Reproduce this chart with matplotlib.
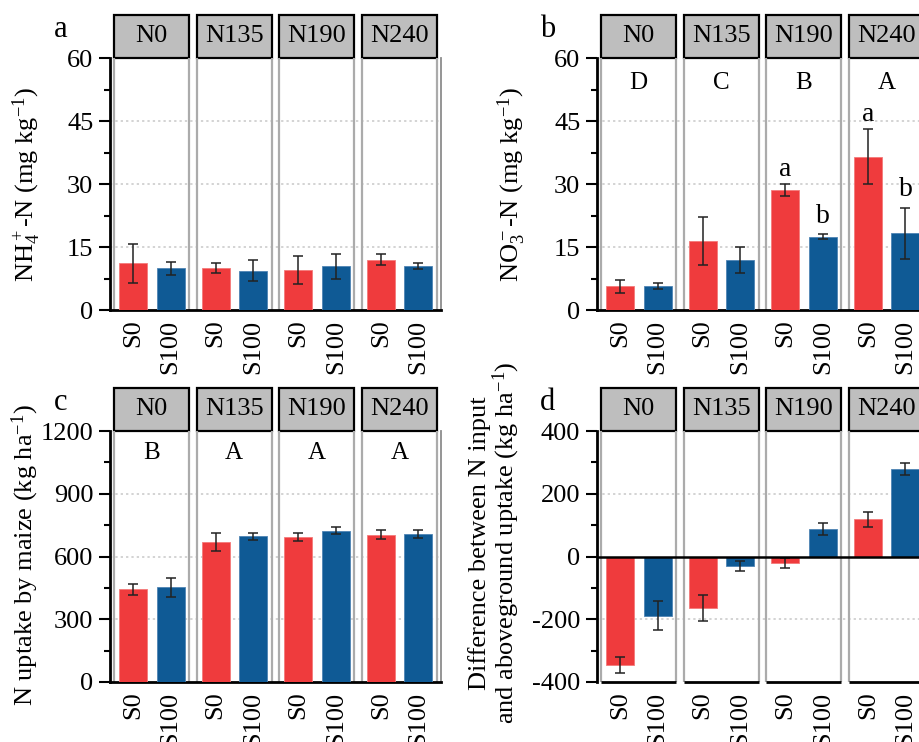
import numpy as np
import matplotlib
matplotlib.use("Agg")
import matplotlib.pyplot as plt
from matplotlib.patches import Rectangle
import matplotlib.transforms as mtransforms

plt.rcParams['font.family'] = ['Liberation Serif', 'DejaVu Serif']
plt.rcParams['mathtext.fontset'] = 'custom'
plt.rcParams['mathtext.rm'] = 'Liberation Serif'
plt.rcParams['mathtext.it'] = 'Liberation Serif'
plt.rcParams['mathtext.default'] = 'regular'
plt.rcParams['axes.unicode_minus'] = False
plt.rcParams['font.size'] = 19

# data
n_levels = ['N0', 'N135', 'N190', 'N240']
s_levels = ['S0', 'S100']

nh4_s0 = [11.1, 9.9, 9.5, 12.0]
nh4_s100 = [9.9, 9.4, 10.4, 10.5]
nh4_s0_err = [4.7, 1.2, 3.3, 1.4]
nh4_s100_err = [1.5, 2.5, 3.0, 0.7]

no3_s0 = [5.6, 16.4, 28.5, 36.5]
no3_s100 = [5.7, 11.9, 17.4, 18.3]
no3_s0_err = [1.5, 5.8, 1.4, 6.6]
no3_s100_err = [0.75, 3.1, 0.6, 6.1]
no3_group = ['D', 'C', 'B', 'A']
no3_s0_sig = ['', '', 'a', 'a']
no3_s100_sig = ['', '', 'b', 'b']

upt_s0 = [444, 668, 691, 705]
upt_s100 = [452, 697, 724, 708]
upt_s0_err = [26, 42, 19, 22]
upt_s100_err = [45, 17, 17, 20]
upt_group = ['B', 'A', 'A', 'A']

diff_s0 = [-345, -164, -21, 118]
diff_s100 = [-189, -30, 87, 279]
diff_s0_err = [25, 40, 16, 23]
diff_s100_err = [46, 16, 19, 20]

red = '#EF3B3D'
blue = '#0F5A95'

W, H = 920, 742
fig = plt.figure(figsize=(W / 100, H / 100), dpi=100)


def px_axes(left, top, bottom, width=331):
    return fig.add_axes([left / W, 1 - bottom / H, width / W, (bottom - top) / H])


pitch = 1.1
bw = 0.373
offs = [0.253, 0.753]


def facet_panel(ax, s0, s1, e0, e1, ylim, yticks, letter, neg=False):
    k = np.arange(len(n_levels))
    x0 = k * pitch + offs[0]
    x1 = k * pitch + offs[1]
    ax.bar(x0, s0, bw, color=red, edgecolor='#F47A7A', linewidth=0.6, zorder=3)
    ax.bar(x1, s1, bw, color=blue, edgecolor='#4F84B4', linewidth=0.6, zorder=3)
    eb = dict(fmt='none', ecolor='#222222', elinewidth=1.1, capsize=3.5, capthick=1.1, zorder=4)
    ax.errorbar(x0, s0, yerr=e0, **eb)
    ax.errorbar(x1, s1, yerr=e1, **eb)

    ax.set_xlim(-0.053, (len(n_levels) - 1) * pitch + 1 + 0.053)
    ax.set_ylim(*ylim)
    ax.set_yticks(yticks)
    step = yticks[1] - yticks[0]
    ax.set_yticks(np.arange(ylim[0] + step / 2, ylim[1], step), minor=True)
    ax.tick_params(axis='y', which='major', length=8, width=1.5, pad=4)
    ax.tick_params(axis='y', which='minor', length=4.5, width=1.5)

    xt = np.ravel(np.column_stack([x0, x1]))
    ax.set_xticks(xt)
    ax.set_xticklabels(s_levels * len(n_levels), rotation=90)
    ax.tick_params(axis='x', length=0, pad=7)

    for t in yticks[1:-1]:
        if t != 0:
            ax.axhline(t, color='#C8C8C8', lw=1.1, ls=(0, (1.5, 2)), zorder=1)

    ax.spines['top'].set_visible(False)
    ax.spines['left'].set_linewidth(2)
    ax.spines['right'].set_color('#8C8C8C')
    ax.spines['right'].set_linewidth(1.3)
    trans = mtransforms.blended_transform_factory(ax.transData, ax.transAxes)
    for i, name in enumerate(n_levels):
        s = i * pitch
        ax.axvline(s, color='#ABABAB', lw=1.6, zorder=2)
        ax.axvline(s + 1, color='#ABABAB', lw=1.6, zorder=2)
        ax.add_patch(Rectangle((s, 1.0), 1, 0.172, transform=trans, clip_on=False,
                               facecolor='#BEBEBE', edgecolor='black', lw=1.6))
        ax.text(s + 0.5, 1.086, name, transform=trans, ha='center', va='center', fontsize=19)
    if neg:
        ax.spines['bottom'].set_visible(False)
        ax.axhline(0, color='black', lw=1.8, zorder=5)
        for i in range(len(n_levels)):
            s = i * pitch
            ax.plot([s, s + 1], [0, 0], transform=trans, color='black', lw=2,
                    clip_on=False, zorder=5, solid_capstyle='butt')
    else:
        ax.spines['bottom'].set_linewidth(2)
    ax.text(-0.15, 1.115, letter, transform=ax.transAxes, ha='center', va='center', fontsize=22)
    return x0, x1


ax_a = px_axes(110, 58, 310)
facet_panel(ax_a, nh4_s0, nh4_s100, nh4_s0_err, nh4_s100_err, (0, 60), [0, 15, 30, 45, 60], 'a')
fig.text(27 / W, 1 - 184 / H, 'NH$_4^+$-N (mg kg$^{-1}$)', rotation=90, ha='center', va='center', fontsize=19)

ax_b = px_axes(597, 58, 310)
x0, x1 = facet_panel(ax_b, no3_s0, no3_s100, no3_s0_err, no3_s100_err, (0, 60), [0, 15, 30, 45, 60], 'b')
for i, g in enumerate(no3_group):
    ax_b.text(i * pitch + 0.5, 54, g, ha='center', va='center', fontsize=18)
for i in range(len(n_levels)):
    if no3_s0_sig[i]:
        ax_b.text(x0[i], no3_s0[i] + no3_s0_err[i] + 3.5, no3_s0_sig[i], ha='center', va='center', fontsize=20)
    if no3_s100_sig[i]:
        ax_b.text(x1[i], no3_s100[i] + no3_s100_err[i] + 4.2, no3_s100_sig[i], ha='center', va='center', fontsize=20)
fig.text(512 / W, 1 - 184 / H, 'NO$_3^-$-N (mg kg$^{-1}$)', rotation=90, ha='center', va='center', fontsize=19)

ax_c = px_axes(110, 431, 682)
facet_panel(ax_c, upt_s0, upt_s100, upt_s0_err, upt_s100_err, (0, 1200), [0, 300, 600, 900, 1200], 'c')
for i, g in enumerate(upt_group):
    ax_c.text(i * pitch + 0.5, 1095, g, ha='center', va='center', fontsize=18)
fig.text(25 / W, 1 - 555 / H, 'N uptake by maize (kg ha$^{-1}$)', rotation=90, ha='center', va='center', fontsize=19)

ax_d = px_axes(597, 431, 682)
facet_panel(ax_d, diff_s0, diff_s100, diff_s0_err, diff_s100_err, (-400, 400), [-400, -200, 0, 200, 400], 'd', neg=True)
fig.text(495 / W, 1 - 543 / H, 'Difference between N input\nand aboveground uptake (kg ha$^{-1}$)',
         rotation=90, ha='center', va='center', fontsize=19, linespacing=0.95)

fig.savefig('out.png', dpi=100)
